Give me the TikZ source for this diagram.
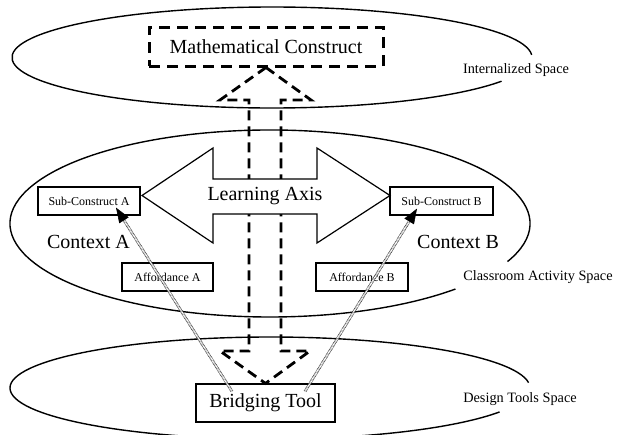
\documentclass[tikz,border=0pt]{standalone}
\usepackage{fontspec}
\setmainfont{Liberation Serif}
\usetikzlibrary{calc,arrows.meta}

\begin{document}
\begin{tikzpicture}
[x=1pt,y=1pt,inner sep=0pt,
box/.style={draw=black,line width=1.2pt,minimum height=28pt,font=\fontsize{12}{14}\selectfont},
dashbox/.style={draw=black,line width=3pt,dash pattern=on 11pt off 7pt,minimum width=234pt,minimum height=39pt,font=\fontsize{20}{24}\selectfont},
big/.style={font=\fontsize{20}{24}\selectfont},
spacelabel/.style={font=\fontsize{14.3}{17}\selectfont},
space/.style={line width=1.4pt},
dasharrow/.style={line width=2.8pt,dash pattern=on 10pt off 6pt},
bridge/.style={draw=black!85,line width=0.6pt,double=white,double distance=1.5pt,dash pattern=on 1pt off 0.6pt,shorten >=8pt},
bridgetip/.style={-{Triangle[length=15pt,width=11pt]},line width=0.5pt}]
\useasboundingbox (0,0) rectangle (621,-434);
% the three spaces
\draw[space] (272,-57.5) ++(3:260pt and 50.5pt) arc[start angle=3,end angle=332,x radius=260pt,y radius=50.5pt];
\draw[space] (270,-223.5) ++(-24:260pt and 93.5pt) arc[start angle=-24,end angle=315.5,x radius=260pt,y radius=93.5pt];
\draw[space] (270,-388) ++(6:260pt and 51pt) arc[start angle=6,end angle=332,x radius=260pt,y radius=51pt];
\node (inner) at (516,-70) [spacelabel] {Internalized Space};
\node (activity) at (538,-277) [spacelabel] {Classroom Activity Space};
\node (design) at (520,-399.5) [spacelabel] {Design Tools Space};
\node (construct) at (266,-46.5) [dashbox] {Mathematical Construct};
\node (subA) at (89,-201) [box,minimum width=102pt] {Sub-Construct A};
\node (subB) at (441.5,-201) [box,minimum width=103pt] {Sub-Construct B};
\node (affA) at (167.5,-277) [box,minimum width=91pt] {Affordance A};
\node (affB) at (362,-277) [box,minimum width=92pt] {Affordance B};
\node (ctxA) at (88.5,-242) [big] {Context A};
\node (ctxB) at (458,-242) [big] {Context B};
\node (tool) at (265.5,-403) [box,big,minimum width=139pt,minimum height=38pt] {Bridging Tool};
% dashed two-way arrow
\draw[dasharrow] (construct.south) -- (311,-100) -- (281,-100) -- (281,-351) -- (310,-351) -- (tool.north)
  -- (220,-351) -- (249,-351) -- (249,-100) -- (220,-100) -- cycle;
% learning axis
\draw[line width=1.2pt,fill=white] (142,-195.5) -- (213,-148) -- (213,-179) -- (317,-179) -- (317,-148) -- (390,-195.5)
  -- (317,-243) -- (317,-214) -- (213,-214) -- (213,-243) -- cycle;
\node (axis) at (265,-196) [big] {Learning Axis};
% bridging lines
\coordinate (footA) at ([xshift=-33.5pt,yshift=-8pt]tool.north);
\coordinate (tipA) at ([xshift=27pt,yshift=8pt]subA.south);
\coordinate (footB) at ([xshift=39.5pt,yshift=-8pt]tool.north);
\coordinate (tipB) at ([xshift=-24.5pt,yshift=7pt]subB.south);
\draw[bridge] (footA) -- (tipA);
\draw[bridge] (footB) -- (tipB);
\draw[bridgetip] ($(footA)!0.93!(tipA)$) -- (tipA);
\draw[bridgetip] ($(footB)!0.93!(tipB)$) -- (tipB);
\end{tikzpicture}
\end{document}
